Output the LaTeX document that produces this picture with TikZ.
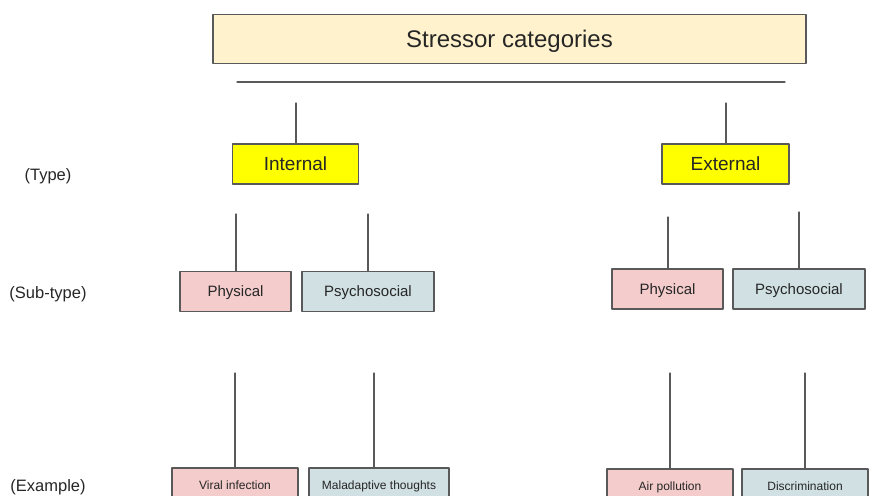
\documentclass[tikz,border=0pt]{standalone}
\usepackage{fontspec}
\setmainfont{Liberation Sans}
\definecolor{titlefill}{HTML}{FFF2CC}
\definecolor{typefill}{HTML}{FFFF00}
\definecolor{physfill}{HTML}{F4CCCC}
\definecolor{psyfill}{HTML}{D0E0E3}
\definecolor{edge}{HTML}{595959}
\begin{document}
\begin{tikzpicture}[x=1pt, y=-1pt, line join=round, line cap=round,
	box/.style={draw=edge, line width=1.4pt, inner sep=0pt, text=black!85, text depth=0pt},
	typebox/.style={box, fill=typefill, minimum height=40pt, text height=13.7pt, font=\fontsize{19}{22}\selectfont},
	subbox/.style={box, minimum height=40pt, text height=10.8pt, font=\fontsize{15}{18}\selectfont},
	exbox/.style={box, minimum height=34pt, text height=8.6pt, font=\fontsize{12}{14}\selectfont},
	lab/.style={font=\fontsize{16.5}{19}\selectfont, text=black!85, text height=11.9pt, text depth=0pt},
	link/.style={draw=edge, line width=1.2pt}]
	%%%%%%%%%%%%%%%%%%%%%%%%%%%%%%%%%
	\useasboundingbox (0,0) rectangle (869,495);
	\clip (0,0) rectangle (869,495);
	%%%%%%%%%%%%%%%%%%%%%%%%%%%%%%%%%
	\node[box, fill=titlefill, minimum width=593pt, minimum height=49pt, text height=17.3pt, font=\fontsize{24}{28}\selectfont] (T) at (509.5,39) {Stressor categories};
	\node[typebox, minimum width=126pt] (I) at (295.5,164) {Internal};
	\node[typebox, minimum width=127pt] (E) at (725.5,164) {External};
	\node[subbox, fill=physfill, minimum width=111pt] (IP) at (235.5,291.5) {Physical};
	\node[subbox, fill=psyfill, minimum width=132pt] (IS) at (368,291.5) {Psychosocial};
	\node[subbox, fill=physfill, minimum width=111pt] (EP) at (667.5,289) {Physical};
	\node[subbox, fill=psyfill, minimum width=132pt] (ES) at (799,289) {Psychosocial};
	\node[exbox, fill=physfill, minimum width=126pt] (IPX) at (235,485) {Viral infection};
	\node[exbox, fill=psyfill, minimum width=140pt] (ISX) at (379,485) {Maladaptive thoughts};
	\node[exbox, fill=physfill, minimum width=126pt] (EPX) at (670,486) {Air pollution};
	\node[exbox, fill=psyfill, minimum width=126pt] (ESX) at (805,486) {Discrimination};
	%%%%%%%%%%%%%%%%%%%%%%%%%%%%%%%%%
	\node[lab] (LT) at (48,175) {(Type)};
	\node[lab] (LS) at (48,293) {(Sub-type)};
	\node[lab] (LX) at (48,486) {(Example)};
	%%%%%%%%%%%%%%%%%%%%%%%%%%%%%%%%%
	\coordinate (HL) at (237,82);
	\coordinate (HR) at (785,82);
	\coordinate (IT) at (296,103);
	\coordinate (ET) at (726,103);
	\coordinate (IPT) at (236,214);
	\coordinate (IST) at (368,214);
	\coordinate (EPT) at (668,217);
	\coordinate (EST) at (799,212);
	\coordinate (IPXT) at (235,373);
	\coordinate (ISXT) at (374,373);
	\coordinate (EPXT) at (670,373);
	\coordinate (ESXT) at (805,373);
	%%%%%%%%%%%%%%%%%%%%%%%%%%%%%%%%%
	\begin{scope}[link]
		\draw (HL) -- (HR);
		\draw (IT) -- (IT |- I.north);
		\draw (ET) -- (ET |- E.north);
		\draw (IPT) -- (IPT |- IP.north);
		\draw (IST) -- (IST |- IS.north);
		\draw (EPT) -- (EPT |- EP.north);
		\draw (EST) -- (EST |- ES.north);
		\draw (IPXT) -- (IPXT |- IPX.north);
		\draw (ISXT) -- (ISXT |- ISX.north);
		\draw (EPXT) -- (EPXT |- EPX.north);
		\draw (ESXT) -- (ESXT |- ESX.north);
	\end{scope}
	%%%%%%%%%%%%%%%%%%%%%%%%%%%%%%%%%
\end{tikzpicture}
\end{document}
